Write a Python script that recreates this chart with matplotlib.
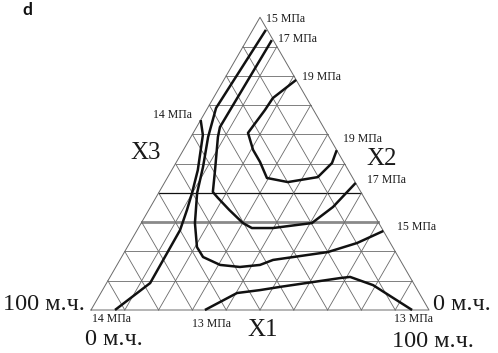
import numpy as np
import matplotlib
matplotlib.use("Agg")
import matplotlib.pyplot as plt

# изолинии прочности, координаты в м.ч. (X1 - к правой вершине, X3 - к верхней)
x1_13 = [33.7, 40.3, 46.6, 52.0, 68.2, 71.0, 79.2, 95.0]
x3_13 = [0.0, 5.8, 6.8, 7.9, 10.9, 11.3, 8.5, 0.0]

x1_14 = [0.0, 3.2, 7.7, 9.9, 11.3, 12.7, 12.9, 7.1]
x3_14 = [64.9, 59.8, 47.8, 40.0, 34.2, 27.3, 9.2, 0.0]

x1_15 = [3.9, 2.5, 5.1, 8.7, 11.4, 15.9, 20.6, 24.1, 30.5, 36.7, 42.3, 45.3, 60.2, 67.3, 73.0]
x3_15 = [95.7, 69.0, 59.1, 48.9, 40.0, 29.7, 21.5, 18.1, 15.4, 14.7, 15.4, 17.1, 19.8, 22.9, 27.0]

x1_17 = [7.4, 6.9, 8.0, 12.8, 15.9, 18.4, 23.8, 30.1, 33.6, 39.8, 50.5, 54.0, 56.6]
x3_17 = [92.2, 62.5, 59.1, 47.8, 40.3, 38.3, 34.2, 29.7, 28.0, 28.0, 29.7, 35.2, 43.4]

x1_19 = [21.4, 17.6, 17.3, 16.2, 20.6, 24.7, 29.5, 36.4, 44.4, 46.2, 45.4]
x3_19 = [78.6, 72.4, 68.3, 60.5, 54.7, 50.6, 45.1, 43.7, 45.4, 50.2, 54.6]

H = np.sqrt(3) / 2


def tern(x1, x3):
    # м.ч. -> декартовы координаты треугольника со стороной 1
    x1 = np.asarray(x1) / 100.0
    x3 = np.asarray(x3) / 100.0
    return x1 + x3 / 2, x3 * H


W, Hpx = 498, 353
fig = plt.figure(figsize=(W / 100, Hpx / 100), dpi=100)
ax = fig.add_axes([0, 0, 1, 1])
s = 338.0
ax.set_xlim(-91 / s, (W - 91) / s)
ax.set_ylim(-43 / s, (Hpx - 43) / s)
ax.axis("off")

# сетка
gc = "#6a6a6a"
for k in range(1, 10):
    t = k / 10
    # горизонтальные
    xs, ys = tern([0, 100 * (1 - t)], [100 * t, 100 * t])
    if k == 4:
        ax.plot(xs, ys, color="#111111", lw=0.9, zorder=1)
    elif k == 3:
        ax.plot(xs, ys, color="#8a8a8a", lw=2.0, zorder=1)
    else:
        ax.plot(xs, ys, color=gc, lw=0.6, zorder=1)
    xs, ys = tern([100 * t, 100 * t], [0, 100 * (1 - t)])
    ax.plot(xs, ys, color=gc, lw=0.6, zorder=1)
    xs, ys = tern([100 * (1 - t), 0], [0, 100 * (1 - t)])
    ax.plot(xs, ys, color=gc, lw=0.6, zorder=1)

xs, ys = tern([0, 100, 0, 0], [0, 0, 100, 0])
ax.plot(xs, ys, color=gc, lw=0.7, zorder=1)

for a, c in [(x1_13, x3_13), (x1_14, x3_14), (x1_15, x3_15),
             (x1_17, x3_17), (x1_19, x3_19)]:
    xs, ys = tern(a, c)
    ax.plot(xs, ys, color="#111111", lw=1.8, zorder=3,
            solid_joinstyle="round", solid_capstyle="butt")

serif = ["Liberation Serif", "DejaVu Serif"]


def lab(x, y, t, size, **kw):
    fig.text(x / W, 1 - y / Hpx, t, fontsize=size, family=serif,
             va="baseline", ha="left", color="#1a1a1a", **kw)


small = 8.5
lab(266, 22, "15 МПа", small)
lab(278, 42, "17 МПа", small)
lab(302, 80, "19 МПа", small)
lab(153, 118, "14 МПа", small)
lab(343, 142, "19 МПа", small)
lab(367, 183, "17 МПа", small)
lab(397, 230, "15 МПа", small)
lab(92, 322, "14 МПа", small)
lab(192, 327, "13 МПа", small)
lab(394, 322, "13 МПа", small)

lab(130, 159, "X3", 18)
lab(366, 165, "X2", 18)
lab(247, 336, "X1", 18)

lab(3, 310, "100 м.ч.", 17.5)
lab(85, 345, "0 м.ч.", 17.5)
lab(433, 310, "0 м.ч.", 17.5)
lab(392, 347, "100 м.ч.", 17.5)

fig.text(22 / W, 1 - 15 / Hpx, "d", fontsize=12.5, family=["Lato", "DejaVu Sans"],
         weight="bold", va="baseline", ha="left", color="#111111")

fig.savefig("out.png", dpi=100, facecolor="white")
